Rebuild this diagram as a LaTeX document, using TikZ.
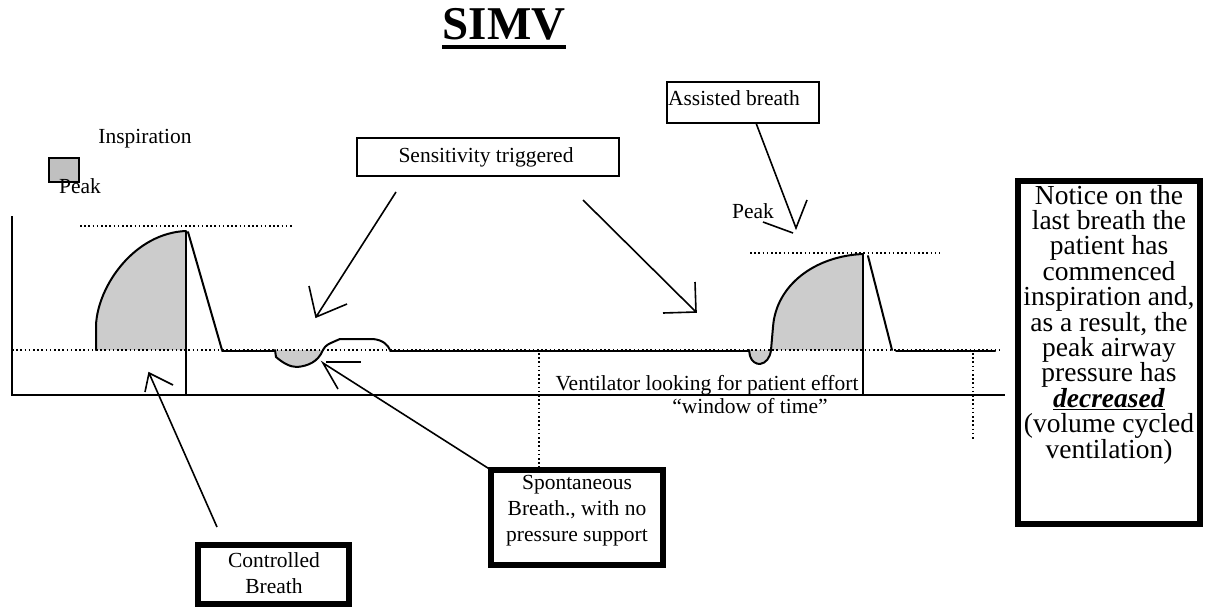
\documentclass[tikz,border=0pt]{standalone}
\usepackage{fontspec}
\setmainfont{Liberation Serif}
\usetikzlibrary{calc}
\definecolor{fillgray}{RGB}{204,204,204}
\definecolor{sqgray}{RGB}{192,192,192}
\begin{document}
\begin{tikzpicture}[x=1pt,y=-1pt,
  txt/.style={font=\fontsize{21.5}{26}\selectfont, inner sep=0pt, outer sep=0pt},
  bigtxt/.style={font=\fontsize{27.5}{25.4}\selectfont, inner sep=0pt, outer sep=0pt, align=center},
  thinbox/.style={draw, rectangle, line width=2pt, inner sep=0pt, outer sep=0pt},
  thickbox/.style={draw, rectangle, line width=5.5pt, inner sep=0pt, outer sep=0pt},
  curve/.style={line width=2pt, line join=round, line cap=round},
  axisline/.style={line width=2.5pt},
  dots/.style={line width=1.6pt, dash pattern=on 1.6pt off 2.6pt},
  pointer/.style={line width=1.6pt, line join=miter},
  grayfill/.style={fill=fillgray}]
\useasboundingbox (0,0) rectangle (1207,610);

% title
\node[anchor=base, inner sep=0pt, font=\fontsize{47}{50}\selectfont\bfseries] (title) at (504,40) {SIMV};
\draw[line width=4pt] ([yshift=-7pt]title.base west) -- ([yshift=-7pt]title.base east);

% legend
\node[txt, anchor=base] (insp) at (145,143) {Inspiration};
\node[draw, rectangle, line width=2.5pt, fill=sqgray, minimum width=30pt, minimum height=24pt, inner sep=0pt] (legsq) at (64,170) {};
\node[txt, anchor=base] (peak1) at (80,193) {Peak};

% fills
\path[grayfill] (96,350) -- (96,325) .. controls (98,285) and (135,233) .. (186,231) -- (186,350) -- cycle;
\path[grayfill] (275,350) -- (276,357) .. controls (283,363) and (290,367) .. (297,367) .. controls (308,366) and (318,362) .. (323,350) -- cycle;
\path[grayfill] (749,350) -- (750,356) .. controls (752,362) and (756,364) .. (760,364) .. controls (766,363) and (770,358) .. (771,350) -- cycle;
\path[grayfill] (771,350) -- (773,327) .. controls (776,285) and (815,256) .. (863,254) -- (863,350) -- cycle;

% dotted lines
\draw[dots] (12,350) -- (1000,350);
\draw[dots] (80,226) -- (292,226);
\draw[dots] (750,253) -- (940,253);
\draw[dots] (539,353) -- (539,471);
\draw[dots] (973,353) -- (973,440);

% axes
\draw[axisline] (12,216) -- (12,395) -- (1005,395);

% waveform
\draw[curve] (96,350) -- (96,325) .. controls (98,285) and (135,233) .. (186,231);
\draw[axisline] (186,231) -- (186,395);
\draw[curve] (188,232) -- (222,350);
\draw[curve] (222,351) -- (275,351);
\draw[curve] (275,350) -- (276,357) .. controls (283,363) and (290,367) .. (297,367) .. controls (308,366) and (318,362) .. (323,350);
\draw[curve] (323,350) .. controls (326,345) .. (340,339) -- (373,339) .. controls (383,340) and (388,345) .. (390,350);
\draw[curve] (390,351) -- (749,351);
\draw[curve] (749,350) -- (750,356) .. controls (752,362) and (756,364) .. (760,364) .. controls (766,363) and (770,358) .. (771,350);
\draw[curve] (771,350) -- (773,327) .. controls (776,285) and (815,256) .. (863,254);
\draw[axisline] (863,254) -- (863,395);
\draw[curve] (868,256) -- (892,350);
\draw[curve] (896,351) -- (995,351);

% texts on chart
\node[txt, anchor=base] (vent) at (707,390) {Ventilator looking for patient effort};
\node[txt, anchor=base] (window) at (750,413) {“window of time”};
\node[txt, anchor=base] (peak2) at (753,218) {Peak};

% boxes
\node[thinbox, minimum width=262pt, minimum height=38pt] (sens) at (488,157) {};
\node[txt, anchor=base] (senstext) at (486,162) {Sensitivity triggered};
\node[thinbox, minimum width=152pt, minimum height=41pt] (assist) at (743,102.5) {};
\node[txt, anchor=base west] (assisttext) at (668,105) {Assisted breath};
\node[thickbox, minimum width=151pt, minimum height=59pt] (ctrl) at (273.5,574.5) {};
\node[txt, anchor=north, align=center] (ctrltext) at (274,553) {Controlled\\Breath};
\node[thickbox, minimum width=172pt, minimum height=95pt] (spont) at (577,517.5) {};
\node[txt, anchor=north, align=center] (sponttext) at (577,475) {Spontaneous\\Breath., with no\\pressure support};
\node[thickbox, minimum width=182pt, minimum height=343pt] (note) at (1109,352.5) {};
\node[bigtxt, anchor=north] (notetext) at (1109,185) {Notice on the\\last breath the\\patient has\\commenced\\inspiration and,\\as a result, the\\peak airway\\pressure has\\\underline{\textbf{\textit{decreased}}}\\(volume cycled\\ventilation)};

% pointers
\coordinate (s1) at (396,192);
\coordinate (t1) at (316,317);
\draw[pointer] (s1) -- (t1) (309,286) -- (t1) -- (347,304);
\coordinate (s2) at (583,200);
\coordinate (t2) at (696,312);
\draw[pointer] (s2) -- (t2) (695,282) -- (t2) -- (663,313);
\coordinate (t3) at (796,228);
\draw[pointer] ([xshift=13pt]assist.south) -- (t3) -- (807,200);
\draw[pointer] (763,222) -- (793,233);
\coordinate (s4) at (217,527);
\coordinate (t4) at (149,373);
\draw[pointer] (s4) -- (t4) (145,392) -- (t4) -- (173,385);
\coordinate (t5) at (323,363);
\draw[pointer] (spont.north west) -- (t5) -- (338,389);
\draw[pointer] (326,362) -- (361,362);
\end{tikzpicture}
\end{document}
